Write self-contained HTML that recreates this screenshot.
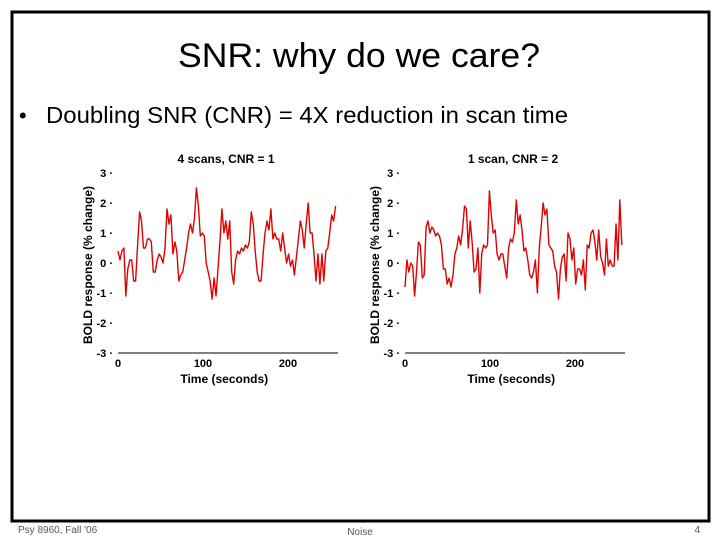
<!DOCTYPE html>
<html><head><meta charset="utf-8"><style>
body{margin:0;width:720px;height:540px;background:#fff;overflow:hidden;font-family:"Liberation Sans",Arial,sans-serif}
</style></head><body>
<svg width="720" height="540" viewBox="0 0 720 540" style="display:block">
<rect x="12" y="12" width="697" height="509" fill="none" stroke="#000" stroke-width="3"/>
<text x="178" y="67" font-size="34" textLength="362" lengthAdjust="spacingAndGlyphs">SNR: why do we care?</text>
<text x="19" y="123" font-size="22">•</text>
<text x="46" y="123" font-size="23" textLength="522" lengthAdjust="spacingAndGlyphs">Doubling SNR (CNR) = 4X reduction in scan time</text>
<text x="18" y="533" font-size="10" fill="#555">Psy 8960, Fall '06</text>
<text x="360" y="535" font-size="10" fill="#555" text-anchor="middle">Noise</text>
<text x="700" y="533" font-size="10" fill="#555" text-anchor="end">4</text>
<g id="c1"></g>
<g id="c2"></g>
</svg>
<script>
const yTicks=[3,2,1,0,-1,-2,-3];
const xTicks=[0,100,200];
const series1=[0.4,0.1,0.4,0.5,-1.1,-0.2,0.1,0.1,-0.6,-0.6,0.6,1.7,1.4,0.5,0.5,0.8,0.8,0.7,-0.3,-0.3,0.1,0.3,0.2,0,0.5,1.8,1.3,1.6,0.3,0.7,0.4,-0.6,-0.4,-0.3,0.1,0.5,1.0,1.3,1.0,1.5,2.5,1.9,0.9,1.0,0.9,0,-0.3,-0.6,-1.2,-0.5,-1.1,-0.2,0.7,1.8,1.0,1.4,0.8,1.4,-0.3,-0.7,0.1,0.4,0.3,0.5,0.4,0.6,0.5,0.7,1.7,1.3,0.4,-0.3,-0.6,-0.6,0.3,1.0,1.4,1.1,1.8,0.8,1.0,0.8,0.8,0.4,1.0,0.5,0,0.3,-0.1,0.1,-0.4,0.2,0.8,1.4,1.1,0.5,1.3,2.0,1.0,1.0,0.3,-0.6,0.3,-0.7,0.3,-0.6,0.4,0.5,1.0,1.6,1.4,1.9];
const series2=[-0.8,0.1,-0.3,0,-0.1,-1.1,-0.3,0.7,0.6,-0.5,-0.4,1.2,1.4,1.0,1.2,1.1,0.9,1.0,0.9,0.6,-0.2,-0.2,-0.7,-0.5,-0.8,-0.4,0.3,0.5,0.9,0.6,1.1,1.9,1.8,0.5,1.4,0.7,-0.3,-0.2,0.5,-1.0,0.3,0.6,0.5,0.6,2.4,1.6,1.0,1.1,0.3,0.1,0.3,0.3,-0.1,-0.5,0.5,0.8,0.7,1.0,2.1,1.3,1.6,1.1,0.4,0.5,0.1,-0.4,-0.5,-0.3,0.1,-1.0,0.5,1.2,2.0,1.6,1.8,0.6,0.5,0.4,-0.1,-0.3,-1.2,-0.2,0.2,0.3,-0.6,1.0,0.8,0.1,0.5,-0.7,-0.2,-0.2,-0.4,0.1,-0.9,0.6,0.5,1.0,1.1,0.7,0.1,1.1,0.2,0,-0.4,0.8,-0.1,0.1,-0.1,-0.1,1.3,0.1,2.1,0.6];
const duration1=256, duration2=255;
const NS='http://www.w3.org/2000/svg';
function mk(g,tag,attrs,txt){const e=document.createElementNS(NS,tag);for(const k in attrs)e.setAttribute(k,attrs[k]);if(txt!==undefined)e.textContent=txt;g.appendChild(e);return e;}
function draw(id,x0,axisEnd,title,vals,dur){
  const g=document.getElementById(id);
  const xs=t=>x0+t*0.85, ys=v=>263-v*30;
  const tt=mk(g,'text',{x:x0+108,y:163,'text-anchor':'middle','font-size':12,'font-weight':'bold'},title);
  
  
  yTicks.forEach(v=>{
    const l=mk(g,'text',{x:x0-5,y:ys(v)+4,'text-anchor':'end','font-size':11,'font-weight':'bold'},v+' ·');
    
    
  });
  xTicks.forEach(v=>{
    const l=mk(g,'text',{x:xs(v),y:367,'text-anchor':'middle','font-size':11,'font-weight':'bold'},v);
    
    
  });
  const ax=mk(g,'line',{x1:x0,y1:353,x2:axisEnd,y2:353,stroke:'#000','stroke-width':1});
  
  
  const xl=mk(g,'text',{x:xs(125),y:383,'text-anchor':'middle','font-size':12,'font-weight':'bold'},'Time (seconds)');
  
  
  const yx=x0-26;
  const yl=mk(g,'text',{x:yx,y:265,'text-anchor':'middle','font-size':12,'font-weight':'bold',transform:'rotate(-90 '+yx+' 265)'},'BOLD response (% change)');
  
  
  const n=vals.length;
  const pts=vals.map((v,i)=>xs(i*dur/(n-1)).toFixed(1)+','+ys(v).toFixed(1)).join(' ');
  const p=mk(g,'polyline',{points:pts,fill:'none',stroke:'#e00000','stroke-width':1.4,'stroke-linejoin':'round'});
  
  
}
draw('c1',118,338,'4 scans, CNR = 1',series1,duration1);
draw('c2',405,625,'1 scan, CNR = 2',series2,duration2);
</script>
</body></html>
